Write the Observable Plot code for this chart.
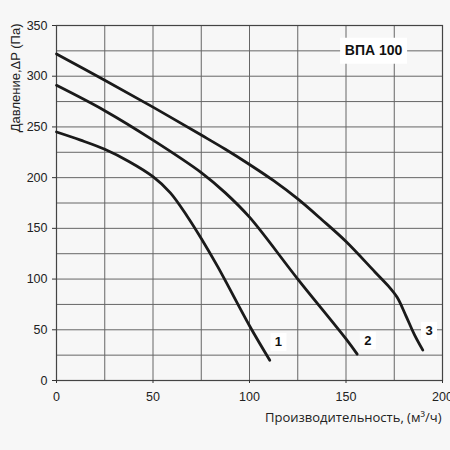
<!DOCTYPE html>
<html>
<head>
<meta charset="utf-8">
<script src="https://cdn.jsdelivr.net/npm/d3@7"></script>
<script src="https://cdn.jsdelivr.net/npm/@observablehq/plot@0.6"></script>
<style>
  html, body { margin: 0; padding: 0; background: #f7f7f7; }
</style>
</head>
<body>
<div id="chart"></div>
<script>
// Curve 1
const curve1X = [0, 12.5, 25, 37.5, 50, 59, 67.7, 75, 83.6, 100, 110.5];
const curve1Y = [245, 237, 228, 216, 201, 185, 162, 140, 112, 54, 20];
// Curve 2
const curve2X = [0, 25, 50, 75, 87.5, 100, 125, 150, 155.8];
const curve2Y = [291, 266, 237, 205, 185, 161, 100, 41, 26];
// Curve 3
const curve3X = [0, 25, 50, 75, 87.5, 100, 112.5, 125, 137.5, 150, 165, 172, 176.5, 181, 185.5, 189.8];
const curve3Y = [322, 296, 269.5, 242, 228, 213, 197, 179, 158.5, 137, 107, 93, 82, 64, 45, 30];

// Curve number labels
const labelText = ["1", "2", "3"];
const labelX = [115, 161.3, 193];
const labelY = [38, 39.4, 49];

// Title
const titleText = "ВПА 100";
const titleX = 164.3;
const titleY = 325;

// Ticks
const xTicks = [0, 50, 100, 150, 200];
const yTicks = [0, 50, 100, 150, 200, 250, 300, 350];
const gridXTicks = [25, 50, 75, 100, 125, 150, 175];
const gridYTicks = [25, 50, 75, 100, 125, 150, 175, 200, 225, 250, 275, 300, 325];

const xLabel = "Производительность, (м³/ч)";
const yLabel = "Давление,ΔP (Па)";

const series = [
  {name: "1", xs: curve1X, ys: curve1Y},
  {name: "2", xs: curve2X, ys: curve2Y},
  {name: "3", xs: curve3X, ys: curve3Y}
];
const lineData = series.flatMap(s => s.xs.map((x, i) => ({series: s.name, x, y: s.ys[i]})));
const labels = labelText.map((t, i) => ({text: t, x: labelX[i], y: labelY[i]}));

const box = (w, h) => ({draw(ctx) { ctx.rect(-w / 2, -h / 2, w, h); }});

const chart = Plot.plot({
  width: 450,
  height: 450,
  marginLeft: 56,
  marginRight: 8,
  marginTop: 25,
  marginBottom: 70,
  style: {background: "#f7f7f7", fontFamily: "'Liberation Sans', Arial, sans-serif", fontSize: "12.5px", color: "#333"},
  x: {domain: [0, 200]},
  y: {domain: [0, 350]},
  marks: [
    Plot.gridX(gridXTicks, {stroke: "#666", strokeOpacity: 1, strokeWidth: 1}),
    Plot.gridY(gridYTicks, {stroke: "#666", strokeOpacity: 1, strokeWidth: 1}),
    Plot.frame({stroke: "#444", strokeWidth: 1.2}),
    Plot.axisX(xTicks, {tickSize: 3, tickPadding: 9, label: null, fontSize: 12.5, fill: "#222"}),
    Plot.axisY(yTicks, {tickSize: 4, tickPadding: 5, label: null, fontSize: 12.5, fill: "#222"}),
    Plot.line(lineData, {x: "x", y: "y", z: "series", stroke: "#1a1a1a", strokeWidth: 2.8, curve: "catmull-rom"}),
    Plot.dot(labels, {x: "x", y: "y", symbol: box(16, 18), r: 1, fill: "white", stroke: "none"}),
    Plot.text(labels, {x: "x", y: "y", text: "text", fontWeight: "bold", fontSize: 13, fill: "#111"}),
    Plot.dot([titleText], {x: () => titleX, y: () => titleY, symbol: box(67, 26), r: 1, fill: "white", stroke: "none"}),
    Plot.text([titleText], {x: () => titleX, y: () => titleY, text: d => d, fontWeight: "bold", fontSize: 14, fill: "#111"}),
    Plot.text([xLabel], {frameAnchor: "bottom-right", text: d => d, textAnchor: "end", dx: -1, dy: 41, fontSize: 13, fontFamily: "'Open Sans', sans-serif", fill: "#222"}),
    Plot.text([yLabel], {frameAnchor: "top-left", text: d => d, rotate: -90, textAnchor: "end", dx: -46, dy: -2, fontSize: 13, fill: "#222"})
  ]
});
document.getElementById("chart").appendChild(chart);
</script>
</body>
</html>
